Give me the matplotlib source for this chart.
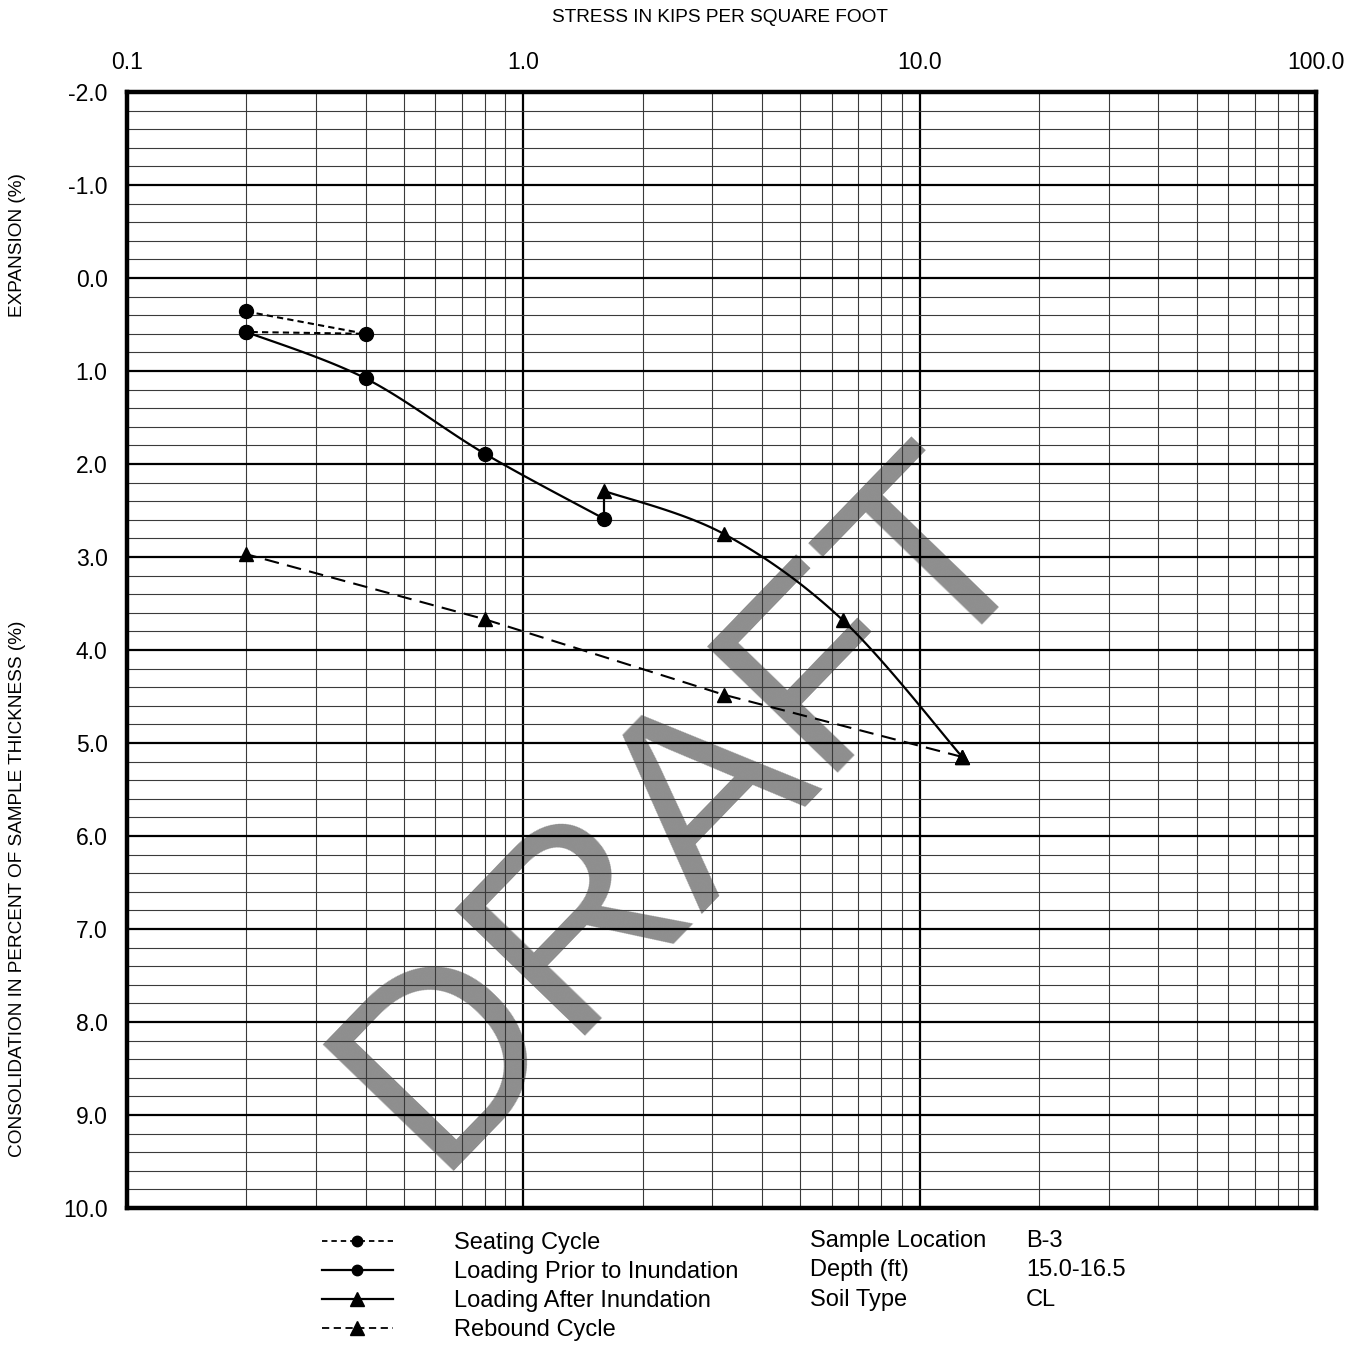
import numpy as np
import matplotlib
matplotlib.use('Agg')
import matplotlib.pyplot as plt
from matplotlib.lines import Line2D
from matplotlib.ticker import FixedLocator, NullFormatter

plt.rcParams['font.family'] = ['Liberation Sans', 'DejaVu Sans']

# ---------------- data ----------------
seating_x = [0.2, 0.4, 0.2]
seating_y = [0.36, 0.60, 0.58]
prior_x = [0.2, 0.4, 0.8, 1.6]
prior_y = [0.58, 1.08, 1.89, 2.59]
after_x = [1.6, 1.6, 3.2, 6.4, 12.8]
after_y = [2.59, 2.29, 2.75, 3.68, 5.15]
rebound_x = [12.8, 3.2, 0.8, 0.2]
rebound_y = [5.15, 4.48, 3.67, 2.97]

x_ticks = [0.1, 1.0, 10.0, 100.0]
x_tick_labels = ['0.1', '1.0', '10.0', '100.0']
y_ticks = list(range(-2, 11))
y_tick_labels = ['%.1f' % v for v in y_ticks]

legend_labels = ['Seating Cycle', 'Loading Prior to Inundation',
                 'Loading After Inundation', 'Rebound Cycle']
info_keys = ['Sample Location', 'Depth (ft)', 'Soil Type']
info_vals = ['B-3', '15.0-16.5', 'CL']


def smooth(xs, ys, n=40):
    """Catmull-Rom style smooth drawing path through the points (log-x space)."""
    P = np.column_stack([np.log10(xs), np.asarray(ys, float)])
    Q = np.vstack([P[0], P, P[-1]])
    out = [P[0]]
    t = np.linspace(0, 1, n)[1:, None]
    for i in range(1, len(Q) - 2):
        p0, p1, p2, p3 = Q[i - 1], Q[i], Q[i + 1], Q[i + 2]
        c1 = p1 + (p2 - p0) / 6.0
        c2 = p2 - (p3 - p1) / 6.0
        pts = (1 - t) ** 3 * p1 + 3 * (1 - t) ** 2 * t * c1 + 3 * (1 - t) * t ** 2 * c2 + t ** 3 * p2
        out.extend(pts)
    out = np.array(out)
    return 10 ** out[:, 0], out[:, 1]


fig = plt.figure(figsize=(13.6, 13.45), dpi=100)
ax = fig.add_axes([127 / 1360, 1 - 1208 / 1345, (1316 - 127) / 1360, (1208 - 92) / 1345])

ax.set_xscale('log')
ax.set_xlim(0.1, 100)
ax.set_ylim(10, -2)

ax.xaxis.tick_top()
ax.set_xticks(x_ticks)
ax.set_xticklabels(x_tick_labels)
minor_x = [m * 10.0 ** d for d in (-1, 0, 1) for m in range(2, 10)]
ax.xaxis.set_minor_locator(FixedLocator(minor_x))
ax.xaxis.set_minor_formatter(NullFormatter())
ax.set_yticks(y_ticks)
ax.set_yticklabels(y_tick_labels)
ax.yaxis.set_minor_locator(FixedLocator(np.arange(-2, 10.001, 0.2)))
ax.tick_params(which='both', length=0)
ax.tick_params(axis='x', pad=13, labelsize=16.5)
ax.tick_params(axis='y', pad=14, labelsize=16.5)

ax.grid(which='minor', color='#3a3a3a', lw=0.8)
ax.grid(which='major', color='black', lw=1.6)
for s in ax.spines.values():
    s.set_linewidth(3.2)
    s.set_zorder(5)

# watermark (behind grid)
ax.text(0.471, 0.358, 'DRAFT', transform=ax.transAxes, fontsize=189,
        color='#8e8e8e', rotation=46, ha='center', va='center', zorder=0.5)

# series
ax.plot(seating_x, seating_y, color='black', lw=1.5, ls=(0, (3, 2)),
        marker='o', ms=10, zorder=4)
sx, sy = smooth(prior_x, prior_y)
ax.plot(sx, sy, color='black', lw=1.6, zorder=4)
ax.plot(prior_x, prior_y, ls='none', marker='o', ms=10, color='black', zorder=4)
ax.plot(after_x[:2], after_y[:2], color='black', lw=1.6, zorder=4)
ax_, ay_ = smooth(after_x[1:], after_y[1:])
ax.plot(ax_, ay_, color='black', lw=1.6, zorder=4)
ax.plot(after_x[1:], after_y[1:], ls='none', marker='^', ms=9.5, color='black', zorder=4)
ax.plot(rebound_x, rebound_y, color='black', lw=1.5, ls=(0, (7, 4)),
        marker='^', ms=9.5, zorder=4)

# axis titles
fig.text(720 / 1360, 1 - 17 / 1345, 'STRESS IN KIPS PER SQUARE FOOT',
         ha='center', va='center', fontsize=13.7)
fig.text(18 / 1360, 1 - 245 / 1345, 'EXPANSION (%)', rotation=90,
         ha='center', va='center', fontsize=13.7)
fig.text(18 / 1360, 1 - 889 / 1345, 'CONSOLIDATION IN PERCENT OF SAMPLE THICKNESS (%)',
         rotation=90, ha='center', va='center', fontsize=13.7)

# legend
handles = [
    Line2D([], [], color='black', lw=1.3, ls=(0, (3, 2.2)), marker='o', ms=7.5),
    Line2D([], [], color='black', lw=1.6, marker='o', ms=7.5),
    Line2D([], [], color='black', lw=1.6, marker='^', ms=9.5),
    Line2D([], [], color='black', lw=1.3, ls=(0, (4, 2.5)), marker='^', ms=9.5),
]
fig.legend(handles, legend_labels, loc='upper left',
           bbox_to_anchor=(322 / 1360, 1 - 1232 / 1345), frameon=False,
           fontsize=17, handlelength=3.0, handletextpad=2.6,
           labelspacing=0.3, borderpad=0, borderaxespad=0)

row_y = [1241, 1270, 1300]
for k, v, yy in zip(info_keys, info_vals, row_y):
    fig.text(810 / 1360, 1 - yy / 1345, k, ha='left', va='center', fontsize=17)
    fig.text(1026 / 1360, 1 - yy / 1345, v, ha='left', va='center', fontsize=17)

fig.savefig('out.png', dpi=100)
